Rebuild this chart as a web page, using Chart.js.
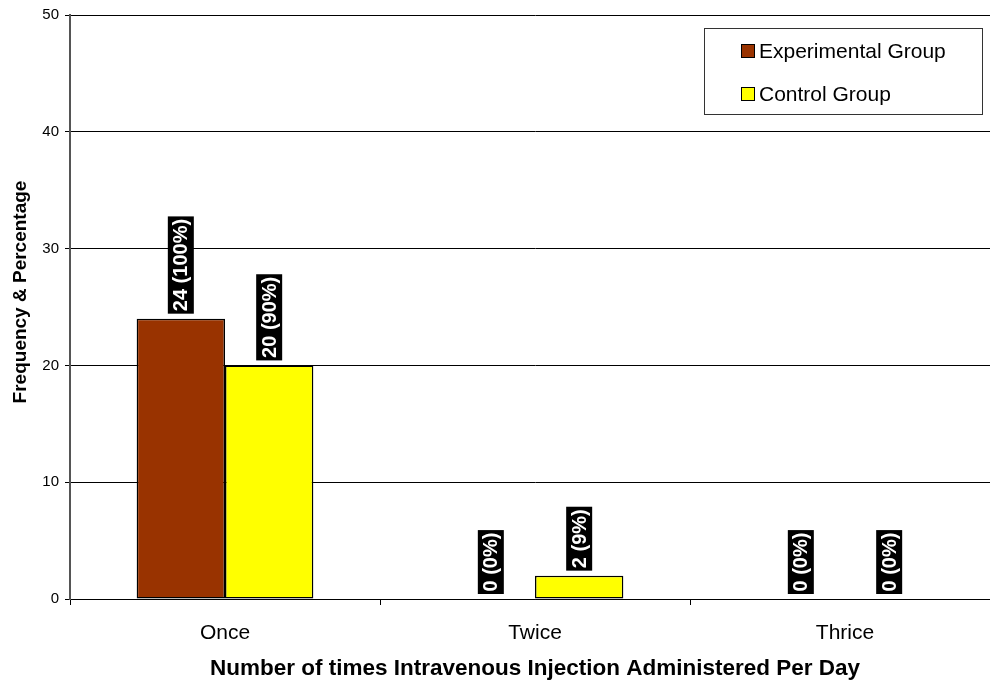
<!DOCTYPE html>
<html>
<head>
<meta charset="utf-8">
<script src="https://cdn.jsdelivr.net/npm/chart.js@4/dist/chart.umd.min.js"></script>
<style>
  html, body { margin: 0; padding: 0; background: #fff; overflow: hidden; }
  #wrap { width: 1000px; height: 683px; }
</style>
</head>
<body>
<div id="wrap"><canvas id="chart"></canvas></div>
<script>
const categories = ["Once", "Twice", "Thrice"];
const experimental = [24, 0, 0];
const control = [20, 2, 0];
const experimentalPct = [100, 0, 0];
const controlPct = [90, 9, 0];
const yTicks = [0, 10, 20, 30, 40, 50];

const FONT = "'Liberation Sans', Arial, sans-serif";

// vertical black tags above each bar: "count (pct%)"
const barTags = {
  id: "barTags",
  afterDatasetsDraw(chart) {
    const ctx = chart.ctx;
    const pcts = [experimentalPct, controlPct];
    chart.data.datasets.forEach((ds, i) => {
      chart.getDatasetMeta(i).data.forEach((bar, j) => {
        const text = ds.data[j] + " (" + pcts[i][j] + "%)";
        ctx.save();
        ctx.font = "bold 20px " + FONT;
        const w = ctx.measureText(text).width + 5;
        ctx.translate(bar.x, bar.y - 5);
        ctx.rotate(-Math.PI / 2);
        ctx.fillStyle = "#000";
        ctx.fillRect(0, -13, w, 26);
        ctx.fillStyle = "#fff";
        ctx.textBaseline = "middle";
        ctx.fillText(text, 2.5, 1);
        ctx.restore();
      });
    });
  }
};

// boxed legend in the upper right of the plot
const boxLegend = {
  id: "boxLegend",
  afterDraw(chart) {
    const ctx = chart.ctx;
    ctx.save();
    ctx.strokeStyle = "#333";
    ctx.lineWidth = 1;
    ctx.fillStyle = "#fff";
    ctx.fillRect(704.5, 28.5, 278, 86);
    ctx.strokeRect(704.5, 28.5, 278, 86);
    ctx.font = "21px " + FONT;
    ctx.textBaseline = "middle";
    chart.data.datasets.forEach((ds, i) => {
      const y = 51 + i * 43;
      ctx.fillStyle = ds.backgroundColor;
      ctx.fillRect(741.5, y - 6.5, 13, 13);
      ctx.strokeStyle = "#000";
      ctx.strokeRect(741.5, y - 6.5, 13, 13);
      ctx.fillStyle = "#000";
      ctx.fillText(ds.label, 759, y + 1);
    });
    ctx.restore();
  }
};

// y-axis title, sitting a little above the plot's middle
const yTitle = {
  id: "yTitle",
  afterDraw(chart) {
    const ctx = chart.ctx;
    ctx.save();
    ctx.translate(21, 292);
    ctx.rotate(-Math.PI / 2);
    ctx.font = "bold 19px " + FONT;
    ctx.fillStyle = "#000";
    ctx.textAlign = "center";
    ctx.textBaseline = "middle";
    ctx.fillText("Frequency & Percentage", 0, 0);
    ctx.restore();
  }
};

new Chart(document.getElementById("chart"), {
  type: "bar",
  data: {
    labels: categories,
    datasets: [
      {
        label: "Experimental Group",
        data: experimental,
        backgroundColor: "#993300",
        borderColor: "#000",
        borderWidth: 1.5,
        borderSkipped: false
      },
      {
        label: "Control Group",
        data: control,
        backgroundColor: "#ffff00",
        borderColor: "#000",
        borderWidth: 1.5,
        borderSkipped: false
      }
    ]
  },
  plugins: [barTags, boxLegend, yTitle],
  options: {
    responsive: true,
    maintainAspectRatio: false,
    animation: false,
    categoryPercentage: 0.57,
    barPercentage: 1,
    layout: { padding: { top: 14, right: 0, bottom: 0, left: 0 } },
    plugins: {
      legend: { display: false },
      tooltip: { enabled: false }
    },
    scales: {
      x: {
        afterFit: s => { s.height = 84; },
        grid: {
          offset: true,
          drawOnChartArea: false,
          drawTicks: true,
          tickLength: 6,
          color: "#000"
        },
        border: { color: "#000", width: 1 },
        ticks: {
          color: "#000",
          padding: 16,
          font: { family: FONT, size: 21 }
        },
        title: {
          display: true,
          text: "Number of times Intravenous Injection Administered Per Day",
          color: "#000",
          padding: { top: 2, bottom: 1 },
          font: { family: FONT, size: 22.5, weight: "bold" }
        }
      },
      y: {
        min: 0,
        max: 50,
        afterFit: s => { s.width = 70; },
        afterBuildTicks: s => { s.ticks = yTicks.map(v => ({ value: v })); },
        grid: {
          color: "#000",
          tickLength: 5,
          drawTicks: true
        },
        border: { color: "#555", width: 2 },
        ticks: {
          color: "#000",
          padding: 6,
          font: { family: FONT, size: 15 }
        },
        title: { display: false }
      }
    }
  }
});
</script>
</body>
</html>
